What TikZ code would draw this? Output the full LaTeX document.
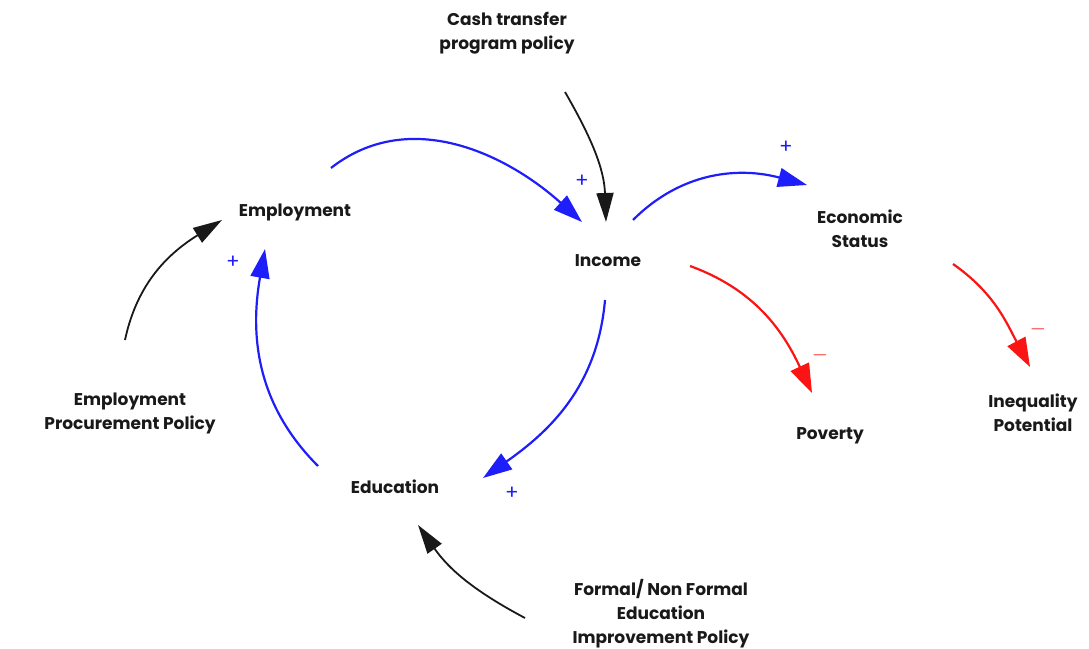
\documentclass[tikz,border=0pt]{standalone}
\usepackage{fontspec}
\setmainfont{Poppins}
\usepackage{tikz}
\usetikzlibrary{arrows.meta, positioning, calc}
\definecolor{linkblue}{RGB}{30,30,250}
\definecolor{linkred}{RGB}{250,20,20}
\definecolor{policyblack}{RGB}{25,25,25}

\begin{document}
\begin{tikzpicture}[
    x=1pt, y=1pt,
    var/.style={align=center, font=\fontsize{17}{24}\selectfont\bfseries, text=black!90},
    sign/.style={font=\fontsize{20}{20}\selectfont},
    poslink/.style={-{Triangle[length=29pt, width=19pt]}, line width=2.2pt, linkblue},
    neglink/.style={-{Triangle[length=29pt, width=20pt]}, line width=2.2pt, linkred},
    policy/.style={-{Triangle[length=29pt, width=17pt]}, line width=1.8pt, policyblack}
]
    \useasboundingbox (0,0) rectangle (1089,648);

    % Nodes
    \node[var] (cash) at (507,615) {Cash transfer\\program policy};
    \node[var] (employ) at (295,436) {Employment};
    \node[var] (income) at (608,387) {Income};
    \node[var] (econ) at (860,419) {Economic\\Status};
    \node[var] (poverty) at (830,212) {Poverty};
    \node[var] (inequal) at (1033,235) {Inequality\\Potential};
    \node[var] (procure) at (130,235) {Employment\\Procurement Policy};
    \node[var] (edu) at (395,161) {Education};
    \node[var] (formal) at (661,34) {Formal/ Non Formal\\Education\\Improvement Policy};

    % Link ends
    \coordinate (employ-out) at (331,480);
    \coordinate (income-in) at (582,426);
    \coordinate (cash-out) at (565,556);
    \coordinate (cash-in) at (606,426);
    \coordinate (income-out) at (633,428);
    \coordinate (econ-in) at (807,463);
    \coordinate (poverty-out) at (690,382);
    \coordinate (poverty-in) at (812,255);
    \coordinate (econ-out) at (953,384);
    \coordinate (inequal-in) at (1030,281);
    \coordinate (edu-out) at (605,348);
    \coordinate (edu-in) at (483,170);
    \coordinate (loop-out) at (318,182);
    \coordinate (employ-in) at (265,399);
    \coordinate (procure-out) at (125,308);
    \coordinate (procure-in) at (222,428);
    \coordinate (formal-out) at (525,30);
    \coordinate (formal-in) at (418,123);

    % Arrows
    \draw[poslink] (employ-out) to[out=38, in=138] (income-in);
    \draw[policy] (cash-out) to[out=-60, in=92] (cash-in);
    \draw[poslink] (income-out) to[out=45, in=165] (econ-in);
    \draw[neglink] (poverty-out) to[out=-20, in=115] (poverty-in);
    \draw[neglink] (econ-out) to[out=-35, in=118] (inequal-in);
    \draw[poslink] (edu-out) to[out=-95, in=35] (edu-in);
    \draw[poslink] (loop-out) to[out=135, in=-100] (employ-in);
    \draw[policy] (procure-out) to[out=78, in=212] (procure-in);
    \draw[policy] (formal-out) to[out=152, in=-55] (formal-in);

    % Polarity
    \node[sign, linkblue] at (582,467) {+};
    \node[sign, linkblue] at (786,501) {+};
    \node[sign, linkblue] at (512,155) {+};
    \node[sign, linkblue] at (233,386) {+};
    \node[sign, linkred] at (820,293) {$-$};
    \node[sign, linkred] at (1038,319) {$-$};
\end{tikzpicture}
\end{document}
